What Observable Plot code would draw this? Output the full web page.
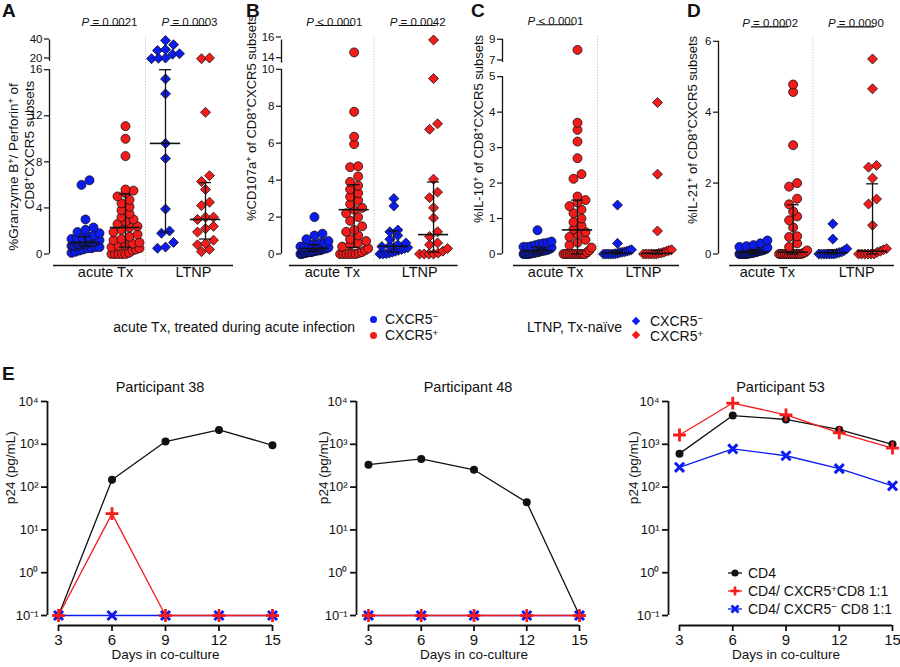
<!DOCTYPE html>
<html><head><meta charset="utf-8">
<script src="https://cdn.jsdelivr.net/npm/d3@7"></script>
<script src="https://cdn.jsdelivr.net/npm/@observablehq/plot@0.6"></script>
<style>
body{margin:0;background:#fff;font-family:"Liberation Sans",Arial,sans-serif;color:#111}
#root{position:relative;width:900px;height:667px;overflow:hidden;background:#fff}
.abs{position:absolute;white-space:nowrap;line-height:16px}
.letter{position:absolute;font-weight:bold;font-size:19px;line-height:20px}
.ylab{position:absolute;font-size:13px;white-space:nowrap;line-height:14px;transform:translate(-50%,-50%) rotate(-90deg)}
sup{font-size:0.68em;vertical-align:0.45em;line-height:0}
.panel{position:absolute;top:0}
</style></head><body><div id="root"></div>
<script>
// ---------- shared ----------
const groupNames = ["acute Tx CXCR5−", "acute Tx CXCR5+", "LTNP CXCR5−", "LTNP CXCR5+"];
const xLabels = ["acute Tx", "LTNP"];
const BLUE = "#0c1cf0", RED = "#f41b1b";

// ---------- Panel A: %Granzyme B+/Perforin+ ----------
const A_acuteNeg = [6.4, 6.0, 3.0, 2.3, 2.1, 1.9, 1.8, 1.6, 1.5, 1.4, 1.4, 1.3, 1.2, 1.2, 1.1, 1.1, 1.0, 1.0, 1.0, 0.9, 0.9, 0.9, 0.8, 0.8, 0.8, 0.7, 0.7, 0.7, 0.6, 0.6, 0.5, 0.5, 0.4, 0.3, 0.2, 0.1];
const A_acutePos = [11.1, 10.0, 8.5, 5.6, 5.5, 5.3, 5.0, 4.7, 4.4, 4.1, 3.8, 3.5, 3.2, 3.0, 2.8, 2.6, 2.4, 2.3, 2.1, 1.9, 1.7, 1.5, 1.3, 1.2, 1.0, 0.9, 0.8, 0.7, 0.6, 0.5, 0.4, 0.3, 0.1, 0, 0, 0, 0, 0];
const A_ltnpNeg = [39.5, 35, 30, 29, 25.5, 25, 21, 20.8, 20.3, 15.2, 13.9, 9.6, 8.3, 3.9, 2.0, 1.8, 1.0, 0.6, 0.5];
const A_ltnpPos = [21, 20.3, 12.3, 6.8, 6.3, 5.6, 4.5, 4.2, 3.2, 3.2, 3.0, 2.4, 2.2, 1.9, 1.2, 0.9, 0.8, 0.4, 0.2];
const A_median = [1.0, 2.3, 9.6, 3.0];
const A_q1 = [0.7, 0.6, 1.9, 1.3];
const A_q3 = [1.5, 5.2, 16, 6.2];
const A_ticks = [0, 4, 8, 12, 16, 20, 40];
const A_p = ["P = 0.0021", "P = 0.0003"];

// ---------- Panel B: %CD107a+ ----------
const B_acuteNeg = [2.0, 1.1, 1.0, 0.8, 0.7, 0.6, 0.6, 0.5, 0.5, 0.45, 0.4, 0.4, 0.35, 0.35, 0.3, 0.3, 0.3, 0.25, 0.25, 0.2, 0.2, 0.2, 0.2, 0.15, 0.15, 0.15, 0.1, 0.1, 0.1, 0.1, 0.08, 0.05, 0.05, 0.03, 0, 0];
const B_acutePos = [14.8, 7.7, 6.35, 5.95, 4.75, 4.7, 4.2, 3.9, 3.7, 3.5, 3.3, 3.1, 2.9, 2.7, 2.5, 2.4, 2.2, 2.0, 1.8, 1.5, 1.3, 1.2, 1.0, 0.8, 0.7, 0.6, 0.5, 0.4, 0.3, 0.2, 0.1, 0.05, 0, 0, 0, 0, 0, 0];
const B_ltnpNeg = [3.0, 2.6, 1.3, 1.2, 1.0, 0.8, 0.6, 0.5, 0.45, 0.4, 0.35, 0.3, 0.25, 0.2, 0.15, 0.1, 0.05, 0.02, 0, 0];
const B_ltnpPos = [16.0, 9.5, 7.05, 6.75, 4.05, 3.35, 3.05, 2.5, 1.95, 1.2, 0.95, 0.6, 0.5, 0.3, 0.15, 0.05, 0, 0, 0, 0];
const B_median = [0.3, 2.4, 0.42, 1.05];
const B_q1 = [0.15, 0.35, 0.1, 0.1];
const B_q3 = [0.5, 3.75, 1.25, 3.9];
const B_ticks = [0, 2, 4, 6, 8, 10, 14, 16];
const B_p = ["P < 0.0001", "P = 0.0042"];

// ---------- Panel C: %IL-10+ ----------
const C_acuteNeg = [0.67, 0.35, 0.32, 0.3, 0.28, 0.25, 0.22, 0.2, 0.2, 0.18, 0.15, 0.15, 0.12, 0.12, 0.1, 0.1, 0.1, 0.08, 0.08, 0.06, 0.05, 0.05, 0.04, 0.03, 0.02, 0.02, 0.01, 0, 0, 0, 0, 0];
const C_acutePos = [7.97, 3.7, 3.5, 3.17, 2.7, 2.25, 2.12, 1.62, 1.52, 1.45, 1.35, 1.25, 1.15, 1.0, 0.9, 0.8, 0.7, 0.62, 0.55, 0.48, 0.4, 0.32, 0.25, 0.18, 0.1, 0.05, 0, 0, 0, 0, 0, 0, 0, 0, 0, 0, 0];
const C_ltnpNeg = [1.38, 0.3, 0.12, 0.1, 0.08, 0.06, 0.05, 0.04, 0.02, 0.01, 0, 0, 0, 0, 0];
const C_ltnpPos = [4.27, 2.25, 0.65, 0.12, 0.1, 0.08, 0.05, 0.03, 0.02, 0, 0, 0, 0, 0, 0];
const C_median = [0.1, 0.68, 0.03, 0.02];
const C_q1 = [0.03, 0.0, 0.0, 0.0];
const C_q3 = [0.2, 1.52, 0.08, 0.1];
const C_ticks = [0, 1, 2, 3, 4, 5, 7, 9];
const C_p = ["P < 0.0001"];

// ---------- Panel D: %IL-21+ ----------
const D_acuteNeg = [0.38, 0.3, 0.25, 0.22, 0.2, 0.18, 0.15, 0.15, 0.12, 0.12, 0.1, 0.1, 0.1, 0.08, 0.08, 0.06, 0.05, 0.05, 0.04, 0.03, 0.03, 0.02, 0.02, 0.01, 0.01, 0, 0, 0, 0, 0, 0, 0];
const D_acutePos = [4.78, 4.57, 3.07, 2.0, 1.9, 1.56, 1.4, 1.2, 1.06, 0.95, 0.75, 0.5, 0.48, 0.3, 0.2, 0.1, 0.05, 0.02, 0, 0, 0, 0, 0, 0, 0, 0, 0, 0, 0, 0];
const D_ltnpNeg = [0.85, 0.42, 0.15, 0.1, 0.06, 0.04, 0.02, 0, 0, 0, 0, 0, 0, 0];
const D_ltnpPos = [5.5, 4.66, 2.5, 2.45, 2.14, 1.55, 1.41, 0.81, 0.15, 0.12, 0.08, 0.05, 0, 0, 0, 0, 0, 0];
const D_median = [0.05, 0.05, 0.04, 0.08];
const D_q1 = [0.01, 0, 0, 0];
const D_q3 = [0.12, 1.39, 0.12, 1.98];
const D_ticks = [0, 2, 4, 6];
const D_p = ["P = 0.0002", "P = 0.0090"];

// ---------- Panel E: p24 (pg/mL) by day ----------
const days = [3, 6, 9, 12, 15];
const eTicks = [0.1, 1, 10, 100, 1000, 10000];
const p38_cd4 = [0.1, 148, 1160, 2170, 950];
const p38_pos = [0.1, 24, 0.1, 0.1, 0.1];
const p38_neg = [0.1, 0.1, 0.1, 0.1, 0.1];
const p48_cd4 = [334, 456, 254, 44, 0.1];
const p48_pos = [0.1, 0.1, 0.1, 0.1, 0.1];
const p48_neg = [0.1, 0.1, 0.1, 0.1, 0.1];
const p53_cd4 = [605, 4700, 3800, 2200, 1000];
const p53_pos = [1650, 9200, 4850, 1850, 810];
const p53_neg = [290, 780, 540, 270, 107];

// ---------- helpers ----------
const root = document.getElementById("root");
function add(html) { root.insertAdjacentHTML("beforeend", html); }

function swarm(ds, pxY) {
  const items = ds.map(d => ({d})).sort((a, b) => a.d - b.d);
  const rows = []; let cur = null;
  for (const it of items) {
    const py = it.d * pxY;
    if (!cur || py - cur.start > 6.5) { cur = {start: py, items: []}; rows.push(cur); }
    cur.items.push(it);
  }
  for (const row of rows) {
    const k = row.items.length;
    const step = k > 1 ? Math.min(8, 28 / (k - 1)) : 0;
    row.items.forEach((it, i) => it.off = (i - (k - 1) / 2) * step);
  }
  return items;
}

function italicP(svg) {
  const NS = "http://www.w3.org/2000/svg";
  svg.querySelectorAll("text").forEach(t => {
    const s = t.textContent;
    if (/^P [=<]/.test(s)) {
      t.textContent = "";
      const a = document.createElementNS(NS, "tspan"); a.setAttribute("font-style", "italic"); a.textContent = "P";
      const b = document.createElementNS(NS, "tspan"); b.textContent = s.slice(1);
      t.append(a, b);
    }
  });
}

const plotStyle = {background: "transparent", overflow: "visible", fontFamily: "'Liberation Sans', Arial, sans-serif", color: "#111"};

function topPanel(c) {
  const brk = c.brk;
  const disp = v => (!brk || v <= brk.lo) ? v : brk.lo + brk.gapPx / c.pxY + (v - brk.hi) * brk.upPx / c.pxY;
  const yTop = disp(c.ticks[c.ticks.length - 1]);
  const frameH = yTop * c.pxY;
  const H = 292, bottom = 253.5;
  const frameW = (c.xMax - c.xMin) * c.pxX;
  const width = Math.round(c.marginLeft + frameW + 4);
  const recs = [];
  c.groups.forEach((vals, gi) => {
    swarm(vals.map(disp), c.pxY).forEach(s => recs.push({gi, d: s.d, x: gi + s.off / c.pxX}));
  });
  const stats = c.median.map((m, gi) => ({gi, m: disp(m), q1: disp(c.q1[gi]), q3: disp(c.q3[gi])}));
  const lowT = c.ticks.filter(t => !brk || t <= brk.lo);
  const upT = brk ? c.ticks.filter(t => t >= brk.hi) : [];
  const tickLab = new Map(c.ticks.map(t => [disp(t), String(t)]));
  const pv = c.pvals.map((t, i) => ({t, x: c.pAt[i]}));
  const marks = [
    Plot.ruleX([1.5], {stroke: "#c4c4c4", strokeDasharray: "1.2,1.6", insetTop: -3, insetBottom: -9}),
    Plot.ruleX([c.xMin], {y1: 0, y2: brk ? brk.lo : yTop, strokeWidth: 1.3}),
    Plot.axisY(lowT.map(disp), {tickFormat: d => tickLab.get(d), tickSize: 5, tickPadding: 2, fontSize: 11.5, label: null, strokeWidth: 1.2}),
    Plot.ruleY([0], {x1: c.xLine0, x2: c.xMax, dy: 11.5, strokeWidth: 1.3})
  ];
  if (brk) marks.push(
    Plot.ruleX([c.xMin], {y1: disp(brk.hi) - 2.5 / c.pxY, y2: yTop, strokeWidth: 1.3}),
    Plot.axisY(upT.map(disp), {tickFormat: d => tickLab.get(d), tickSize: 5, tickPadding: 2, fontSize: 11.5, label: null, strokeWidth: 1.2, dy: brk.labelDy || 0})
  );
  [0, 1, 2, 3].forEach(gi => marks.push(Plot.dot(recs.filter(r => r.gi === gi), {
    x: "x", y: "d", r: 4.5, symbol: gi < 2 ? "circle" : "diamond2",
    fill: gi % 2 ? RED : BLUE, stroke: "#111", strokeWidth: 0.8
  })));
  marks.push(
    Plot.ruleX(stats, {x: "gi", y1: "q1", y2: "q3", strokeWidth: 1.3}),
    Plot.ruleY(stats, {y: "m", x1: d => d.gi - 0.38, x2: d => d.gi + 0.38, strokeWidth: 1.6}),
    Plot.ruleY(stats, {y: "q1", x1: d => d.gi - 0.15, x2: d => d.gi + 0.15, strokeWidth: 1.3}),
    Plot.ruleY(stats, {y: "q3", x1: d => d.gi - 0.15, x2: d => d.gi + 0.15, strokeWidth: 1.3}),
    Plot.text(xLabels, {x: (d, i) => c.xLabAt[i], frameAnchor: "bottom", dy: 23, fontSize: 14.5, fill: "#111"}),
    Plot.text(pv, {x: "x", text: "t", frameAnchor: "top", dy: -22.5, fontSize: 11.5, fill: "#111"}),
    Plot.ruleY(pv, {y: () => yTop, x1: d => d.x - 0.47, x2: d => d.x + 0.47, dy: -14.5, strokeWidth: 1.2})
  );
  const svg = Plot.plot({
    width, height: H,
    marginLeft: c.marginLeft, marginRight: width - c.marginLeft - frameW,
    marginTop: bottom - frameH, marginBottom: H - bottom,
    x: {domain: [c.xMin, c.xMax], axis: null},
    y: {domain: [0, yTop]},
    style: plotStyle,
    marks
  });
  italicP(svg);
  const wrap = document.createElement("div");
  wrap.className = "panel"; wrap.style.left = c.left + "px";
  wrap.append(svg); root.append(wrap);
}

const supMap = {"-": "⁻", "0": "⁰", "1": "¹", "2": "²", "3": "³", "4": "⁴"};
const powFmt = d => "10" + String(Math.round(Math.log10(d))).split("").map(ch => supMap[ch]).join("");

function ePanel(c) {
  const recs = days.flatMap((day, i) => [
    {s: "cd4", day, v: c.cd4[i]}, {s: "neg", day, v: c.neg[i]}, {s: "pos", day, v: c.pos[i]}
  ]);
  const sel = s => recs.filter(r => r.s === s);
  const H = 307;
  const svg = Plot.plot({
    width: c.width, height: H,
    marginLeft: c.marginLeft, marginRight: c.width - c.frameRight, marginTop: 41, marginBottom: 42,
    x: {domain: [3, 15], insetLeft: c.inset, axis: null},
    y: {type: "log", domain: [0.1, 1e4], insetBottom: 10},
    style: plotStyle,
    marks: [
      Plot.axisY(eTicks, {tickFormat: powFmt, tickSize: 6, tickPadding: 3, fontSize: 13, label: null, strokeWidth: 1.8}),
      Plot.axisX(days, {tickSize: 6, tickPadding: 3, fontSize: 15, label: null, strokeWidth: 1.8}),
      Plot.ruleX([3], {dx: -c.inset, y1: 0.1, y2: 1e4, strokeWidth: 1.8}),
      Plot.ruleY([0.1], {x1: 3, x2: 15, dy: 10, strokeWidth: 1.8}),
      Plot.line(sel("cd4"), {x: "day", y: "v", stroke: "#111", strokeWidth: 1.3}),
      Plot.dot(sel("cd4"), {x: "day", y: "v", r: 4, fill: "#111"}),
      Plot.line(sel("neg"), {x: "day", y: "v", stroke: BLUE, strokeWidth: 1.3}),
      Plot.dot(sel("neg"), {x: "day", y: "v", r: 4.2, symbol: "times", stroke: BLUE, strokeWidth: 3}),
      Plot.line(sel("pos"), {x: "day", y: "v", stroke: RED, strokeWidth: 1.3}),
      Plot.dot(sel("pos"), {x: "day", y: "v", r: 4.2, symbol: "plus", stroke: RED, strokeWidth: 2.8}),
      Plot.text([c.title], {frameAnchor: "top", dy: -20, fontSize: 14.5, fill: "#111"}),
      Plot.text(["Days in co-culture"], {x: () => d3.mean(days), frameAnchor: "bottom", dy: 33, fontSize: 13.5, fill: "#111"}),
      Plot.text(["p24 (pg/mL)"], {y: () => 40, frameAnchor: "left", dx: c.labelDx, rotate: -90, fontSize: 13.5, fill: "#111"})
    ]
  });
  const wrap = document.createElement("div");
  wrap.className = "panel"; wrap.style.left = c.left + "px"; wrap.style.top = "360px";
  wrap.append(svg); root.append(wrap);
}

// ---------- top panels ----------
topPanel({left: 0, marginLeft: 49, xMin: -0.9, xMax: 3.7, xLine0: -0.8, pxX: 40, pxY: 11.52,
  brk: {lo: 16, hi: 20, gapPx: 10.7, upPx: 0.95, labelDy: -1}, ticks: A_ticks,
  groups: [A_acuteNeg, A_acutePos, A_ltnpNeg, A_ltnpPos], median: A_median, q1: A_q1, q3: A_q3,
  pvals: A_p, pAt: [0.6, 2.6], xLabAt: [0.5, 2.7]});
topPanel({left: 220, marginLeft: 61, xMin: -0.83, xMax: 3.62, xLine0: -0.63, pxX: 39.7, pxY: 18.47,
  brk: {lo: 10, hi: 14, gapPx: 8.6, upPx: 10.35, labelDy: -3}, ticks: B_ticks,
  groups: [B_acuteNeg, B_acutePos, B_ltnpNeg, B_ltnpPos], median: B_median, q1: B_q1, q3: B_q3,
  pvals: B_p, pAt: [0.5, 2.6], xLabAt: [0.45, 2.65]});
topPanel({left: 440, marginLeft: 62, xMin: -0.875, xMax: 3.55, xLine0: -0.6, pxX: 40, pxY: 35.47,
  brk: {lo: 5, hi: 7, gapPx: 16.7, upPx: 10.35, labelDy: 0}, ticks: C_ticks,
  groups: [C_acuteNeg, C_acutePos, C_ltnpNeg, C_ltnpPos], median: C_median, q1: C_q1, q3: C_q3,
  pvals: C_p, pAt: [0.45], xLabAt: [0.45, 2.65]});
topPanel({left: 660, marginLeft: 58, xMin: -0.88, xMax: 3.55, xLine0: -0.6, pxX: 39.7, pxY: 35.45,
  brk: null, ticks: D_ticks,
  groups: [D_acuteNeg, D_acutePos, D_ltnpNeg, D_ltnpPos], median: D_median, q1: D_q1, q3: D_q3,
  pvals: D_p, pAt: [0.42, 2.58], xLabAt: [0.35, 2.6]});

// ---------- E panels ----------
ePanel({left: 0, width: 292, marginLeft: 47, inset: 11, frameRight: 272, labelDx: -37, title: "Participant 38", cd4: p38_cd4, pos: p38_pos, neg: p38_neg});
ePanel({left: 300, width: 298, marginLeft: 56, inset: 12, frameRight: 279, labelDx: -33, title: "Participant 48", cd4: p48_cd4, pos: p48_pos, neg: p48_neg});
ePanel({left: 600, width: 300, marginLeft: 68, inset: 11, frameRight: 292, labelDx: -35, title: "Participant 53", cd4: p53_cd4, pos: p53_pos, neg: p53_neg});

// ---------- letters and axis titles ----------
add(`<div class="letter" style="left:2px;top:1px">A</div>`);
add(`<div class="letter" style="left:246px;top:1px">B</div>`);
add(`<div class="letter" style="left:471px;top:1px">C</div>`);
add(`<div class="letter" style="left:687px;top:1px">D</div>`);
add(`<div class="letter" style="left:2px;top:364px">E</div>`);
add(`<div class="ylab" style="left:14px;top:167px;font-size:13.5px">%Granzyme B<sup>+</sup>/ Perforin<sup>+</sup> of</div>`);
add(`<div class="ylab" style="left:30px;top:145px;font-size:13.5px">CD8<sup>+</sup>CXCR5 subsets</div>`);
add(`<div class="ylab" style="left:252px;top:118px">%CD107a<sup>+</sup> of CD8<sup>+</sup>CXCR5 subsets</div>`);
add(`<div class="ylab" style="left:479px;top:129px">%IL-10<sup>+</sup> of CD8<sup>+</sup>CXCR5 subsets</div>`);
add(`<div class="ylab" style="left:693px;top:130px">%IL-21<sup>+</sup> of CD8<sup>+</sup>CXCR5 subsets</div>`);

// ---------- middle legend ----------
add(`<div class="abs" style="right:545px;top:319px;font-size:14px">acute Tx, treated during acute infection</div>`);
add(`<div class="abs" style="left:369.5px;top:315.5px;width:7px;height:7px;border-radius:50%;background:${BLUE}"></div>`);
add(`<div class="abs" style="left:369.5px;top:331.5px;width:7px;height:7px;border-radius:50%;background:${RED}"></div>`);
add(`<div class="abs" style="left:385px;top:311px;font-size:14px">CXCR5<sup>−</sup></div>`);
add(`<div class="abs" style="left:385px;top:327px;font-size:14px">CXCR5<sup>+</sup></div>`);
add(`<div class="abs" style="right:278px;top:319px;font-size:14px">LTNP, Tx-naïve</div>`);
add(`<div class="abs" style="left:633px;top:318px;width:6px;height:6px;transform:rotate(45deg);background:${BLUE}"></div>`);
add(`<div class="abs" style="left:633px;top:332px;width:6px;height:6px;transform:rotate(45deg);background:${RED}"></div>`);
add(`<div class="abs" style="left:650px;top:313px;font-size:14px">CXCR5<sup>−</sup></div>`);
add(`<div class="abs" style="left:650px;top:328px;font-size:14px">CXCR5<sup>+</sup></div>`);

// ---------- E legend ----------
const glyph = {
  cd4: `<line x1="0" y1="6" x2="14" y2="6" stroke="#111" stroke-width="1.3"/><circle cx="7" cy="6" r="3.6" fill="#111"/>`,
  pos: `<line x1="0" y1="6" x2="14" y2="6" stroke="${RED}" stroke-width="1.3"/><path d="M7 1.5V10.5M2.5 6H11.5" stroke="${RED}" stroke-width="2.6"/>`,
  neg: `<line x1="0" y1="6" x2="14" y2="6" stroke="${BLUE}" stroke-width="1.3"/><path d="M3.5 2.5L10.5 9.5M10.5 2.5L3.5 9.5" stroke="${BLUE}" stroke-width="2.8"/>`
};
const eLegend = [["cd4", "CD4", 573], ["pos", "CD4/ CXCR5<sup>+</sup>CD8 1:1", 591], ["neg", "CD4/ CXCR5<sup>−</sup> CD8 1:1", 609]];
eLegend.forEach(([k, label, y]) => {
  add(`<svg class="abs" style="left:728px;top:${y - 6}px" width="14" height="12">${glyph[k]}</svg>`);
  add(`<div class="abs" style="left:748px;top:${y - 8}px;font-size:14px">${label}</div>`);
});
</script></body></html>
